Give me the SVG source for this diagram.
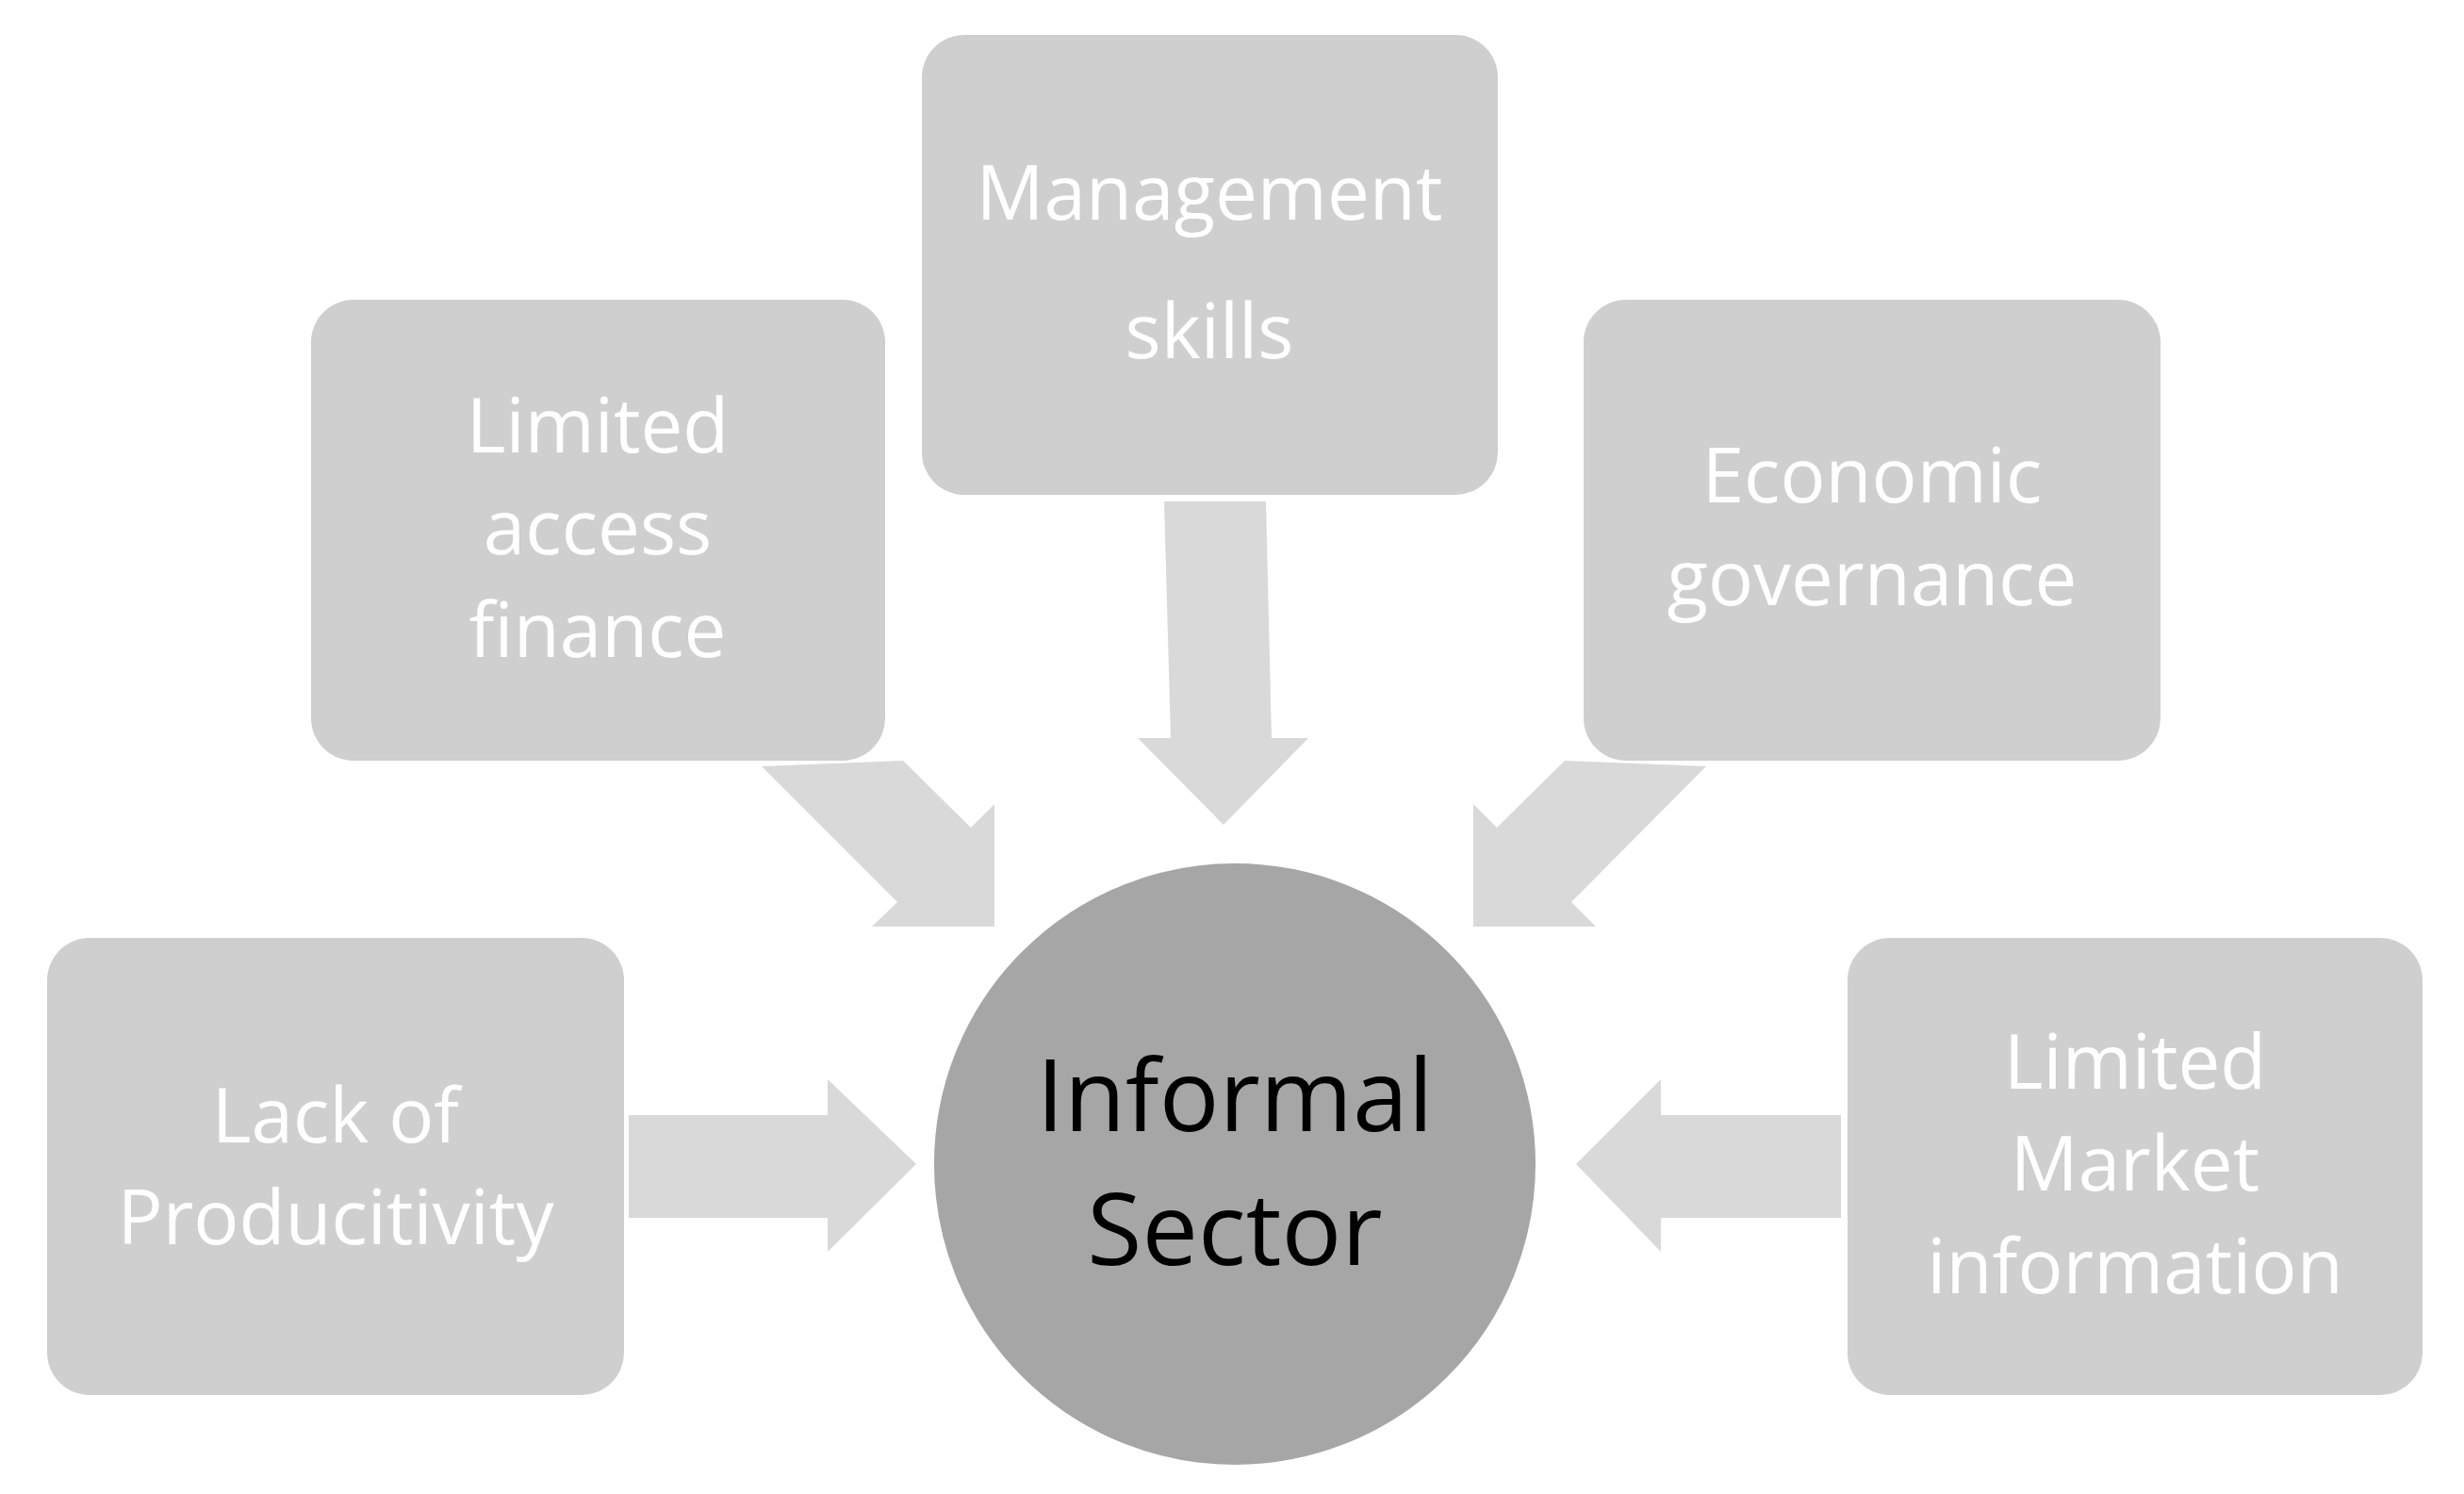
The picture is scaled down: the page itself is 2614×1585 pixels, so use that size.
<svg xmlns="http://www.w3.org/2000/svg" width="2614" height="1585" viewBox="0 0 2614 1585">
<style>
.box{fill:#d0cfcf}
.arr{fill:#d9d9d9}
.t{font-family:"Open Sans","Liberation Sans",sans-serif;font-size:80px;fill:#ffffff;text-anchor:middle}
.c{font-family:"Open Sans","Liberation Sans",sans-serif;font-size:106px;fill:#000000;text-anchor:middle}
</style>
<rect width="2614" height="1585" fill="#ffffff"/>
<g id="connectors">
<polygon class="arr" points="667,1183 878,1183 878,1145 972,1235 878,1328 878,1292 667,1292"/>
<polygon class="arr" points="1953,1183 1762,1183 1762,1145 1672,1235 1762,1328 1762,1292 1953,1292"/>
<polygon class="arr" points="1235,532 1343,532 1349,783 1388,783 1298,875 1207,783 1242,783"/>
<polygon class="arr" points="808,813 952,957 925,983 1055,983 1055,853 1030,878 958,807"/>
<polygon class="arr" points="1810,813 1667,957 1693,983 1563,983 1563,853 1588,878 1660,807"/>
</g>
<g id="n-productivity"><rect class="box" x="50" y="995" width="612" height="485" rx="45"/>
<text class="t" x="356" y="1212">Lack of</text><text class="t" x="356" y="1320">Producitivity</text></g>
<g id="n-finance"><rect class="box" x="330" y="318" width="609" height="489" rx="45"/>
<text class="t" x="634" y="480">Limited</text><text class="t" x="634" y="588">access</text><text class="t" x="634" y="697">finance</text></g>
<g id="n-management"><rect class="box" x="978" y="37" width="611" height="488" rx="45"/>
<text class="t" x="1283" y="233">Management</text><text class="t" x="1283" y="380">skills</text></g>
<g id="n-governance"><rect class="box" x="1680" y="318" width="612" height="489" rx="45"/>
<text class="t" x="1986" y="533">Economic</text><text class="t" x="1986" y="642">governance</text></g>
<g id="n-market"><rect class="box" x="1960" y="995" width="610" height="485" rx="45"/>
<text class="t" x="2265" y="1155">Limited</text><text class="t" x="2265" y="1263">Market</text><text class="t" x="2265" y="1372">information</text></g>
<g id="n-informal"><circle cx="1310" cy="1235" r="322" fill="#a6a6a6" stroke="#ffffff" stroke-width="6"/>
<text class="c" x="1310" y="1200">Informal</text><text class="c" x="1310" y="1342">Sector</text></g>
</svg>
